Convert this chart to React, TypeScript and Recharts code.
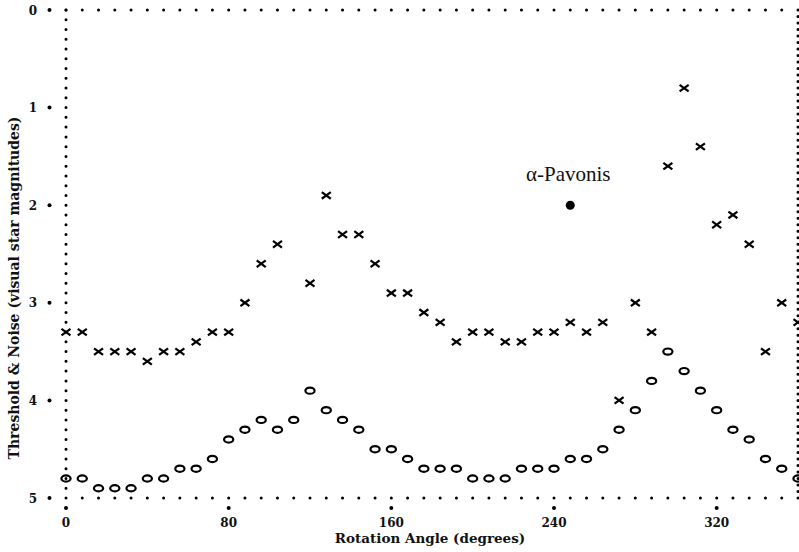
import { ScatterChart, Scatter, XAxis, YAxis, ReferenceLine } from 'recharts'

// rotation angles (degrees), one sample every 8 degrees
const angles = [
  0, 8, 16, 24, 32, 40, 48, 56, 64, 72, 80, 88, 96, 104, 112, 120,
  128, 136, 144, 152, 160, 168, 176, 184, 192, 200, 208, 216, 224, 232, 240, 248,
  256, 264, 272, 280, 288, 296, 304, 312, 320, 328, 336, 344, 352, 360,
]

// "x" marks (threshold), null where no point was drawn
const thresholdMag = [
  3.3, 3.3, 3.5, 3.5, 3.5, 3.6, 3.5, 3.5, 3.4, 3.3, 3.3, 3.0, 2.6, 2.4, null, 2.8,
  1.9, 2.3, 2.3, 2.6, 2.9, 2.9, 3.1, 3.2, 3.4, 3.3, 3.3, 3.4, 3.4, 3.3, 3.3, 3.2,
  3.3, 3.2, 4.0, 3.0, 3.3, 1.6, 0.8, 1.4, 2.2, 2.1, 2.4, 3.5, 3.0, 3.2,
]

// "o" marks (noise)
const noiseMag = [
  4.8, 4.8, 4.9, 4.9, 4.9, 4.8, 4.8, 4.7, 4.7, 4.6, 4.4, 4.3, 4.2, 4.3, 4.2, 3.9,
  4.1, 4.2, 4.3, 4.5, 4.5, 4.6, 4.7, 4.7, 4.7, 4.8, 4.8, 4.8, 4.7, 4.7, 4.7, 4.6,
  4.6, 4.5, 4.3, 4.1, 3.8, 3.5, 3.7, 3.9, 4.1, 4.3, 4.4, 4.6, 4.7, 4.8,
]

const pavonisAngle = 248
const pavonisMag = 2.0
const pavonisLabel = 'α-Pavonis'

const xTicks = [0, 80, 160, 240, 320]
const yTicks = [0, 1, 2, 3, 4, 5]

const thresholdData = angles
  .map((a, i) => ({ x: a, y: thresholdMag[i] }))
  .filter((d) => d.y !== null)
const noiseData = angles.map((a, i) => ({ x: a, y: noiseMag[i] }))
const pavonisData = [{ x: pavonisAngle, y: pavonisMag }]

const tickFont = { fontFamily: 'DejaVu Serif', fontWeight: 'bold', fontSize: 12 }

const dotted = (gap: number) => ({
  stroke: '#000',
  strokeWidth: 3,
  strokeLinecap: 'round' as const,
  strokeDasharray: `0 ${gap}`,
})

const XTick = ({ x, y, payload }: any) => (
  <g>
    <circle cx={x} cy={y + 10} r={2} fill="#000" stroke="none" />
    <text x={x} y={y + 29} textAnchor="middle" fill="#111" {...tickFont}>
      {payload.value}
    </text>
  </g>
)

const YTick = ({ x, y, payload }: any) => (
  <g>
    <circle cx={x - 16.5} cy={y} r={2} fill="#000" stroke="none" />
    <text x={x - 33} y={y + 4.5} textAnchor="middle" fill="#111" {...tickFont}>
      {payload.value}
    </text>
  </g>
)

const Cross = ({ cx, cy }: any) => (
  <g stroke="#000" strokeWidth={2.2}>
    <line x1={cx - 4.5} y1={cy - 3.3} x2={cx + 4.5} y2={cy + 3.3} />
    <line x1={cx - 4.5} y1={cy + 3.3} x2={cx + 4.5} y2={cy - 3.3} />
  </g>
)

const Ring = ({ cx, cy }: any) => (
  <ellipse cx={cx} cy={cy} rx={4.6} ry={3.1} fill="none" stroke="#000" strokeWidth={2.2} />
)

const Star = ({ cx, cy }: any) => (
  <g>
    <circle cx={cx} cy={cy} r={4.5} fill="#000" />
    <text
      x={cx - 2}
      y={cy - 24}
      textAnchor="middle"
      fontFamily="Liberation Serif"
      fontSize={21}
      fill="#111"
    >
      {pavonisLabel}
    </text>
  </g>
)

export default function App() {
  return (
    <div
      style={{
        position: 'absolute',
        left: 0,
        top: 0,
        width: 799,
        height: 552,
        overflow: 'hidden',
        background: '#fff',
      }}
    >
      <ScatterChart width={800} height={552} margin={{ top: 10, right: 2, bottom: 0, left: 8 }}>
        <XAxis
          type="number"
          dataKey="x"
          domain={[0, 360]}
          ticks={xTicks}
          height={54}
          tickSize={0}
          tickMargin={0}
          tickLine={false}
          axisLine={dotted(732 / 45)}
          tick={<XTick />}
          label={{
            value: 'Rotation Angle (degrees)',
            position: 'center',
            dx: -2,
            dy: 13,
            fontFamily: 'DejaVu Serif',
            fontWeight: 'bold',
            fontSize: 13.5,
            fill: '#111',
          }}
        />
        <YAxis
          type="number"
          dataKey="y"
          domain={[0, 5]}
          reversed
          ticks={yTicks}
          width={58}
          tickSize={0}
          tickMargin={0}
          tickLine={false}
          axisLine={dotted(488 / 50)}
          tick={<YTick />}
          label={{
            value: 'Threshold & Noise (visual star magnitudes)',
            angle: -90,
            position: 'center',
            dx: -23,
            dy: 34,
            fontFamily: 'DejaVu Serif',
            fontWeight: 'bold',
            fontSize: 14,
            fill: '#111',
          }}
        />
        <ReferenceLine y={0} {...dotted(732 / 45)} />
        <ReferenceLine x={360} {...dotted(488 / 75)} />
        <Scatter data={thresholdData} shape={<Cross />} isAnimationActive={false} />
        <Scatter data={noiseData} shape={<Ring />} isAnimationActive={false} />
        <Scatter data={pavonisData} shape={<Star />} isAnimationActive={false} />
      </ScatterChart>
    </div>
  )
}
